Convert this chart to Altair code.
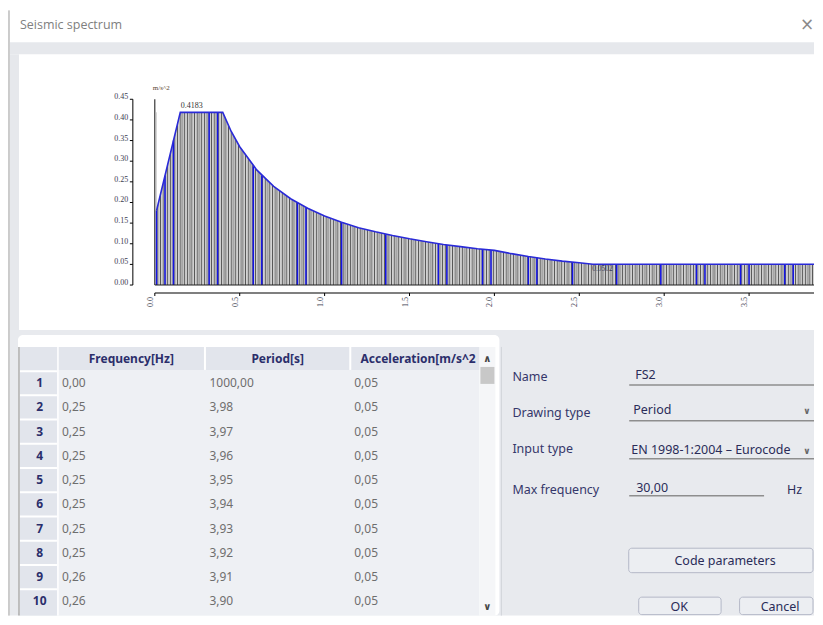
import altair as alt
import pandas as pd

# ---------------- data ----------------
# envelope of the design spectrum: period [s] -> acceleration [m/s^2]
env_T = [0.01, 0.15, 0.40, 0.45, 0.50, 0.60, 0.70, 0.80, 0.90, 1.00, 1.10, 1.20,
         1.30, 1.40, 1.50, 1.60, 1.70, 1.80, 1.90, 2.00, 2.10, 2.20, 2.30, 2.40,
         2.50, 2.58, 3.98]
env_A = [0.180, 0.4183, 0.4183, 0.372, 0.335, 0.279, 0.239, 0.209, 0.186, 0.167,
         0.152, 0.139, 0.129, 0.120, 0.112, 0.105, 0.098, 0.093, 0.088, 0.084,
         0.076, 0.069, 0.063, 0.058, 0.054, 0.0502, 0.0502]

# highlighted (blue) sample bars
blue_T = [0.01, 0.06, 0.11, 0.32, 0.37, 0.58, 0.63, 0.84, 0.89, 1.10, 1.36, 1.67,
          1.72, 1.93, 1.98, 2.20, 2.25, 2.46, 2.72, 2.98, 3.19, 3.24, 3.45, 3.50,
          3.71, 3.76]
blue_A = [0.180, 0.265, 0.350, 0.4183, 0.4183, 0.288, 0.266, 0.199, 0.188, 0.152,
          0.123, 0.100, 0.097, 0.087, 0.085, 0.069, 0.066, 0.055, 0.0502, 0.0502,
          0.0502, 0.0502, 0.0502, 0.0502, 0.0502, 0.0502]

peak_T, peak_A, peak_txt = [0.153], [0.4183], ["0.4183"]
low_T, low_A, low_txt = [2.576], [0.0502], ["0.0502"]

y_ticks = [0.00, 0.05, 0.10, 0.15, 0.20, 0.25, 0.30, 0.35, 0.40, 0.45]
x_ticks = [0.0, 0.5, 1.0, 1.5, 2.0, 2.5, 3.0, 3.5]

# table
tbl_rows = [1, 2, 3, 4, 5, 6, 7, 8, 9, 10]
tbl_freq = [0.00, 0.25, 0.25, 0.25, 0.25, 0.25, 0.25, 0.25, 0.26, 0.26]
tbl_period = [1000.00, 3.98, 3.97, 3.96, 3.95, 3.94, 3.93, 3.92, 3.91, 3.90]
tbl_acc = [0.05, 0.05, 0.05, 0.05, 0.05, 0.05, 0.05, 0.05, 0.05, 0.05]
tbl_headers = ["Frequency[Hz]", "Period[s]", "Acceleration[m/s^2]"]

# form
form_labels = ["Name", "Drawing type", "Input type", "Max frequency"]
form_values = ["FS2", "Period", "EN 1998-1:2004 \u2013 Eurocode", "30,00"]

# ---------------- layout helpers (page pixel -> view pixel) ----------------
X0, Y0 = 155, 99          # page position of the plot origin (T=0, top of 0.45)
W, H = 660, 186           # plot area
PX_PER_S = 170.0
BOTTOM = 616              # lowest page pixel used
X_OFF, Y_OFF, TICK = 8, 22, 3

def vx(x):
    return x - X0

def vy(y):
    return y - Y0

one = pd.DataFrame({"k": [0]})

def box(x1, y1, x2, y2, fill, stroke=None, sw=1, radius=0):
    kw = dict(fill=fill)
    if stroke:
        kw.update(stroke=stroke, strokeWidth=sw)
    if radius:
        kw["cornerRadius"] = radius
    return alt.Chart(one).mark_rect(**kw).encode(
        x=alt.value(vx(x1)), x2=alt.value(vx(x2)),
        y=alt.value(vy(y1)), y2=alt.value(vy(y2)))

def hline(x1, x2, y, color, w=1):
    return alt.Chart(one).mark_rule(color=color, strokeWidth=w).encode(
        x=alt.value(vx(x1)), x2=alt.value(vx(x2)), y=alt.value(vy(y)))

def vline(x, y1, y2, color, w=1):
    return alt.Chart(one).mark_rule(color=color, strokeWidth=w).encode(
        x=alt.value(vx(x)), y=alt.value(vy(y1)), y2=alt.value(vy(y2)))

def txt(t, x, y, size=12, color="#35376a", font="Noto Sans", weight="normal",
        align="left", limit=None):
    kw = dict(text=t, fontSize=size, color=color, font=font, fontWeight=weight,
              align=align, baseline="middle")
    if limit:
        kw.update(limit=limit, ellipsis="\u200b")
    return alt.Chart(one).mark_text(**kw).encode(x=alt.value(vx(x)), y=alt.value(vy(y)))

# ---------------- background / window ----------------
GRAY = "#e6e8ec"
bg = [
    box(8, 8, 815, BOTTOM, "white"),
    box(10, 42, 815, 54, GRAY),
    box(10, 54, 19, 330, GRAY),
    box(10, 330, 815, BOTTOM, "#e8eaee"),
    vline(9, 10, BOTTOM, "#9a9a9a", 1),
    txt("Seismic spectrum", 20, 25, size=12.5, color="#808080", font="Open Sans"),
    txt("\u00d7", 808, 25, size=17, color="#8a8a8a", font="DejaVu Sans", align="center"),
]

# ---------------- spectrum ----------------
env = pd.DataFrame({"T": env_T, "A": env_A})
blue = pd.DataFrame({"T": blue_T, "A": blue_A})
peak = pd.DataFrame({"T": peak_T, "A": peak_A, "lab": peak_txt})
low = pd.DataFrame({"T": low_T, "A": low_A, "lab": low_txt})
xt = pd.DataFrame({"T": x_ticks})
yt = pd.DataFrame({"A": y_ticks})

AX_FONT = "Liberation Serif"
AX_COLOR = "#3c3c50"
YMAX = 0.45
XMAX = W / PX_PER_S
PX_PER_A = H / YMAX
xs = alt.Scale(domain=[0, XMAX], nice=False, zero=False)
ys = alt.Scale(domain=[0, YMAX], nice=False)
X = alt.X("T:Q", scale=xs, axis=None)
Y = alt.Y("A:Q", scale=ys, axis=None)

def XD(v):
    return alt.XDatum(v, type="quantitative", scale=xs, axis=None)

def YD(v):
    return alt.YDatum(v, type="quantitative", scale=ys, axis=None)

# striped texture of the sample bars: two dashed thick rules, masked above the curve
band_top = max(env_A)
stripe_w = band_top * PX_PER_A
stripe_mid = band_top / 2
stripes = [
    alt.Chart(one).mark_rule(color="#585858", strokeWidth=stripe_w,
                             strokeDash=[1.2, 2.2], clip=True).encode(
        x=XD(env_T[0]), x2=alt.datum(env_T[-1]), y=YD(stripe_mid)),
    alt.Chart(one).mark_rule(color="#a6a6a6", strokeWidth=stripe_w,
                             strokeDash=[1.2, 2.2], strokeDashOffset=-1.7,
                             clip=True).encode(
        x=XD(env_T[0]), x2=alt.datum(env_T[-1]), y=YD(stripe_mid)),
    alt.Chart(env).mark_area(color="white", clip=True).encode(
        x=X, y=Y, y2=alt.datum(YMAX)),
]

# axis lines, ticks and labels drawn as marks through the scales
A_AX = -X_OFF / PX_PER_A
A_TK = -(X_OFF + TICK) / PX_PER_A
A_LB = -(X_OFF + TICK + 1) / PX_PER_A
T_AX = -Y_OFF / PX_PER_S
T_TK = -(Y_OFF + TICK) / PX_PER_S
T_LB = -(Y_OFF + TICK + 1.5) / PX_PER_S
HALF_T = 0.5 / PX_PER_S
HALF_A = 0.5 / PX_PER_A
axis_marks = [
    # x-axis line
    alt.Chart(one).mark_rect(color="black").encode(
        x=XD(0), x2=alt.datum(XMAX), y=YD(A_AX + HALF_A), y2=alt.datum(A_AX - HALF_A)),
    # x ticks
    alt.Chart(xt).transform_calculate(
        T1=f"datum.T - {HALF_T}", T2=f"datum.T + {HALF_T}").mark_rect(color="black").encode(
        x=alt.X("T1:Q", scale=xs, axis=None), x2="T2:Q",
        y=YD(A_AX), y2=alt.datum(A_TK)),
    # x labels (rotated, reading upwards)
    alt.Chart(xt).mark_text(angle=270, align="right", baseline="bottom", font=AX_FONT,
                            fontSize=8, color=AX_COLOR).encode(
        x=X, y=YD(A_LB), text=alt.Text("T:Q", format=".1f")),
    # y-axis line
    alt.Chart(one).mark_rect(color="black").encode(
        x=XD(T_AX - HALF_T), x2=alt.datum(T_AX + HALF_T), y=YD(0), y2=alt.datum(YMAX)),
    # y ticks
    alt.Chart(yt).transform_calculate(
        A1=f"datum.A - {HALF_A}", A2=f"datum.A + {HALF_A}").mark_rect(color="black").encode(
        y=alt.Y("A1:Q", scale=ys, axis=None), y2="A2:Q",
        x=XD(T_TK), x2=alt.datum(T_AX)),
    # y labels
    alt.Chart(yt).mark_text(align="right", baseline="alphabetic", font=AX_FONT,
                            fontSize=8, color=AX_COLOR).encode(
        y=Y, x=XD(T_LB), text=alt.Text("A:Q", format=".2f")),
    # plot baseline and left frame
    alt.Chart(one).mark_rect(color="#202020").encode(
        x=XD(0), x2=alt.datum(XMAX), y=YD(HALF_A), y2=alt.datum(-HALF_A)),
    alt.Chart(one).mark_rect(color="#101010").encode(
        x=XD(-HALF_T), x2=alt.datum(HALF_T), y=YD(0), y2=alt.datum(YMAX)),
]

spectrum = alt.layer(
    *stripes,
    alt.Chart(blue).mark_rule(color="#1414e6", strokeWidth=1.5, clip=True).encode(
        x=X, y=Y, y2=alt.datum(0)),
    alt.Chart(env).mark_line(color="#2a2ad8", strokeWidth=1.6, clip=True).encode(x=X, y=Y),
    *axis_marks,
    alt.Chart(peak).mark_text(align="left", baseline="alphabetic", dy=-4, font=AX_FONT,
                              fontSize=8, color="#333333").encode(x=X, y=Y, text="lab:N"),
    alt.Chart(low).mark_text(align="left", baseline="top", dy=1, font=AX_FONT,
                             fontSize=7.5, color="#3a3a55").encode(x=X, y=Y, text="lab:N"),
)
unit = txt("m/s^2", 153, 88, size=7, color="#5a4630", font=AX_FONT)

# ---------------- table ----------------
def comma(v):
    return f"{v:.2f}".replace(".", ",")

tbl = pd.DataFrame({
    "row": tbl_rows,
    "f": [comma(v) for v in tbl_freq],
    "p": [comma(v) for v in tbl_period],
    "a": [comma(v) for v in tbl_acc],
})
Yrow = alt.Y("row:O", scale=alt.Scale(type="point", domain=tbl_rows,
                                       range=[vy(383.3), vy(601.7)], padding=0),
             axis=None)
NAVY = "#2b2e6b"
table_bg = [
    box(18, 335, 500, BOTTOM, "white", radius=5),
    box(20, 347, 480, BOTTOM, "#eef0f4"),
    box(20, 347, 480, 370, "#e2e5ec"),
    box(20, 370, 57, BOTTOM, "#e2e5ec"),
    vline(58, 347, BOTTOM, "white", 1.5),
    vline(205.2, 347, 370, "white", 2),
    vline(350.7, 347, 370, "white", 2),
    vline(19, 347, BOTTOM, "#a9a9a9", 1.5),
    box(480, 347, 496, BOTTOM, "#f5f6f8"),
    box(481, 367, 495, 384, "#c8c8c8"),
    txt("\u2227", 488, 359, size=10, color="#444444", font="DejaVu Sans",
        weight="bold", align="center"),
    txt("\u2228", 488, 607, size=10, color="#444444", font="DejaVu Sans",
        weight="bold", align="center"),
    txt(tbl_headers[0], 131.5, 359, color=NAVY, weight="bold", align="center"),
    txt(tbl_headers[1], 278, 359, color=NAVY, weight="bold", align="center"),
    txt(tbl_headers[2], 361, 359, color=NAVY, weight="bold", limit=116),
    vline(502, 347, BOTTOM, "#d2d4da", 1),
]
cell = dict(align="left", baseline="middle", font="Noto Sans", fontSize=12, color="#6e6e6e")
table = alt.layer(
    alt.Chart(tbl).mark_rule(color="white", strokeWidth=2, yOffset=-12.1).encode(
        y=Yrow, x=alt.value(vx(20)), x2=alt.value(vx(57))),
    alt.Chart(tbl).mark_text(align="center", baseline="middle", font="Noto Sans",
                             fontSize=12, fontWeight="bold", color=NAVY).encode(
        y=Yrow, x=alt.value(vx(39.7)), text="row:N"),
    alt.Chart(tbl).mark_text(**cell).encode(y=Yrow, x=alt.value(vx(62)), text="f:N"),
    alt.Chart(tbl).mark_text(**cell).encode(y=Yrow, x=alt.value(vx(209.7)), text="p:N"),
    alt.Chart(tbl).mark_text(**cell).encode(y=Yrow, x=alt.value(vx(354.7)), text="a:N"),
)

# ---------------- form ----------------
LBL = "#35376a"
VAL = "#2a2c58"
ULINE = "#8e8e8e"
form = [
    txt(form_labels[0], 513, 377.5, size=12.5, color=LBL),
    txt(form_labels[1], 513, 413.5, size=12.5, color=LBL),
    txt(form_labels[2], 513, 449.5, size=12.5, color=LBL),
    txt(form_labels[3], 513, 490, size=12.5, color=LBL),
    txt(form_values[0], 636, 375, size=12.5, color=VAL),
    txt(form_values[1], 634, 410, size=12.5, color=VAL),
    txt(form_values[2], 632, 450, size=12.5, color=VAL, limit=172),
    txt(form_values[3], 637, 488.5, size=12.5, color=VAL),
    txt("Hz", 788, 490, size=12.5, color=VAL),
    hline(630, 815, 385, ULINE, 1.5),
    hline(630, 815, 421, ULINE, 1.5),
    hline(630, 815, 459, ULINE, 1.5),
    hline(630, 765, 496, ULINE, 1.5),
    txt("\u2228", 808, 411, size=9, color="#666666", font="DejaVu Sans",
        weight="bold", align="center"),
    txt("\u2228", 808, 451, size=9, color="#666666", font="DejaVu Sans",
        weight="bold", align="center"),
    box(629.5, 548.5, 814, 573, "#eceef2", stroke="#b4b8c7", sw=1, radius=3),
    txt("Code parameters", 726, 561, size=12.5, color=VAL, align="center"),
    box(639.5, 597.5, 722, 615, "#eceef2", stroke="#b4b8c7", sw=1, radius=3),
    txt("OK", 680, 607.5, size=12.5, color=VAL, align="center"),
    box(740.5, 597.5, 814, 615, "#eceef2", stroke="#b4b8c7", sw=1, radius=3),
    txt("Cancel", 781, 607.5, size=12.5, color=VAL, align="center"),
]

chart = alt.layer(
    *bg, spectrum, unit, *table_bg, table, *form
).resolve_scale(x="independent", y="independent").properties(
    width=W, height=H, padding=0, background="white"
).configure_view(stroke=None)

chart.save("out.html", embed_options={"renderer": "svg", "actions": False})
